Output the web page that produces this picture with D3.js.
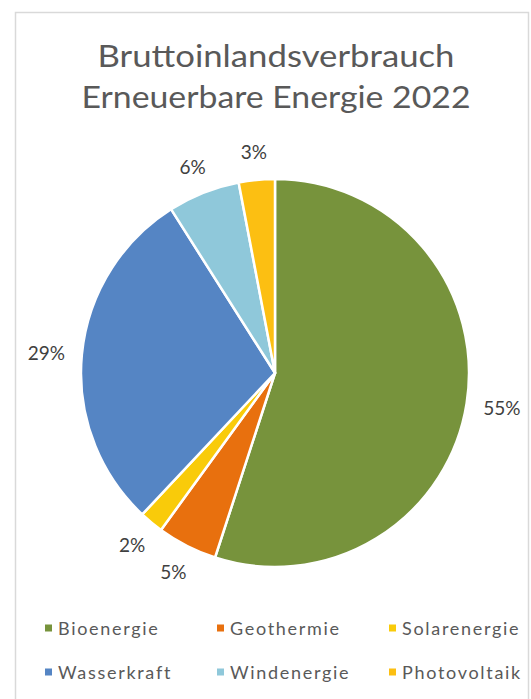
<!DOCTYPE html>
<html>
<head>
<meta charset="utf-8">
<script src="https://cdn.jsdelivr.net/npm/d3@7"></script>
<style>
  html, body { margin: 0; padding: 0; background: #ffffff; }
  svg { display: block; }
  text { font-family: Lato, "Open Sans", sans-serif; }
</style>
</head>
<body>
<svg id="chart" width="531" height="699"></svg>
<script>
// Renewable energy – gross domestic consumption shares 2022
const titleLines = ["Bruttoinlandsverbrauch", "Erneuerbare Energie 2022"];
const categories = ["Bioenergie", "Geothermie", "Solarenergie", "Wasserkraft", "Windenergie", "Photovoltaik"];
const shares = [55, 5, 2, 29, 6, 3];
const sliceColors = ["#77933c", "#e8700e", "#f9cb0a", "#5585c4", "#8fc8da", "#fcbf12"];

const svg = d3.select("#chart");

// chart frame
svg.append("rect")
  .attr("x", 15.5).attr("y", 12.5)
  .attr("width", 513).attr("height", 700)
  .attr("fill", "#ffffff")
  .attr("stroke", "#d9d9d9").attr("stroke-width", 1.5);

// title
const title = svg.append("g").attr("fill", "#595959").attr("font-size", 30).attr("text-anchor", "middle");
const titleBaselines = [67, 108];
const titleWidths = [357, 389];
titleLines.forEach((t, i) => {
  title.append("text")
    .attr("x", 276).attr("y", titleBaselines[i])
    .attr("textLength", titleWidths[i]).attr("lengthAdjust", "spacingAndGlyphs")
    .text(t);
});

// pie
const cx = 275, cy = 373, r = 194;
const color = d3.scaleOrdinal().domain(categories).range(sliceColors);
const data = categories.map((c, i) => ({ name: c, value: shares[i] }));
const pie = d3.pie().sort(null).value(d => d.value).startAngle(0).endAngle(2 * Math.PI);
const arcs = pie(data);
const arc = d3.arc().innerRadius(0).outerRadius(r);

const g = svg.append("g").attr("transform", `translate(${cx},${cy})`);
g.selectAll("path.slice")
  .data(arcs)
  .join("path")
  .attr("class", "slice")
  .attr("d", arc)
  .attr("fill", d => color(d.data.name))
  .attr("stroke", "#ffffff")
  .attr("stroke-width", 2.5)
  .attr("stroke-linejoin", "round");

// percentage labels placed just outside the slice bisector
const fmt = d => d3.format(".0f")(d.data.value) + "%";
const labelGap = 17;
const labels = g.selectAll("text.pct")
  .data(arcs)
  .join("text")
  .attr("class", "pct")
  .attr("font-size", 19)
  .attr("fill", "#404040")
  .attr("text-anchor", "middle")
  .attr("dominant-baseline", "central")
  .text(fmt);

labels.each(function(d) {
  const a = (d.startAngle + d.endAngle) / 2;
  const bb = this.getBBox();
  const sx = Math.sin(a), sy = -Math.cos(a);
  const x = sx * (r + labelGap) + sx * bb.width / 2;
  const y = sy * (r + labelGap) + sy * bb.height / 2;
  d3.select(this).attr("x", x).attr("y", y);
});

// legend: 3 columns x 2 rows
const legendCols = [45, 217, 389];
const legendRows = [628, 672];
const legend = svg.append("g");
categories.forEach((c, i) => {
  const col = i % 3, row = Math.floor(i / 3);
  const x = legendCols[col], y = legendRows[row];
  legend.append("rect")
    .attr("x", x).attr("y", y - 3.5)
    .attr("width", 7).attr("height", 7)
    .attr("fill", color(c));
  legend.append("text")
    .attr("x", x + 13).attr("y", y)
    .attr("dominant-baseline", "central")
    .attr("font-size", 18)
    .attr("letter-spacing", 1.7)
    .attr("fill", "#595959")
    .text(c);
});
</script>
</body>
</html>
